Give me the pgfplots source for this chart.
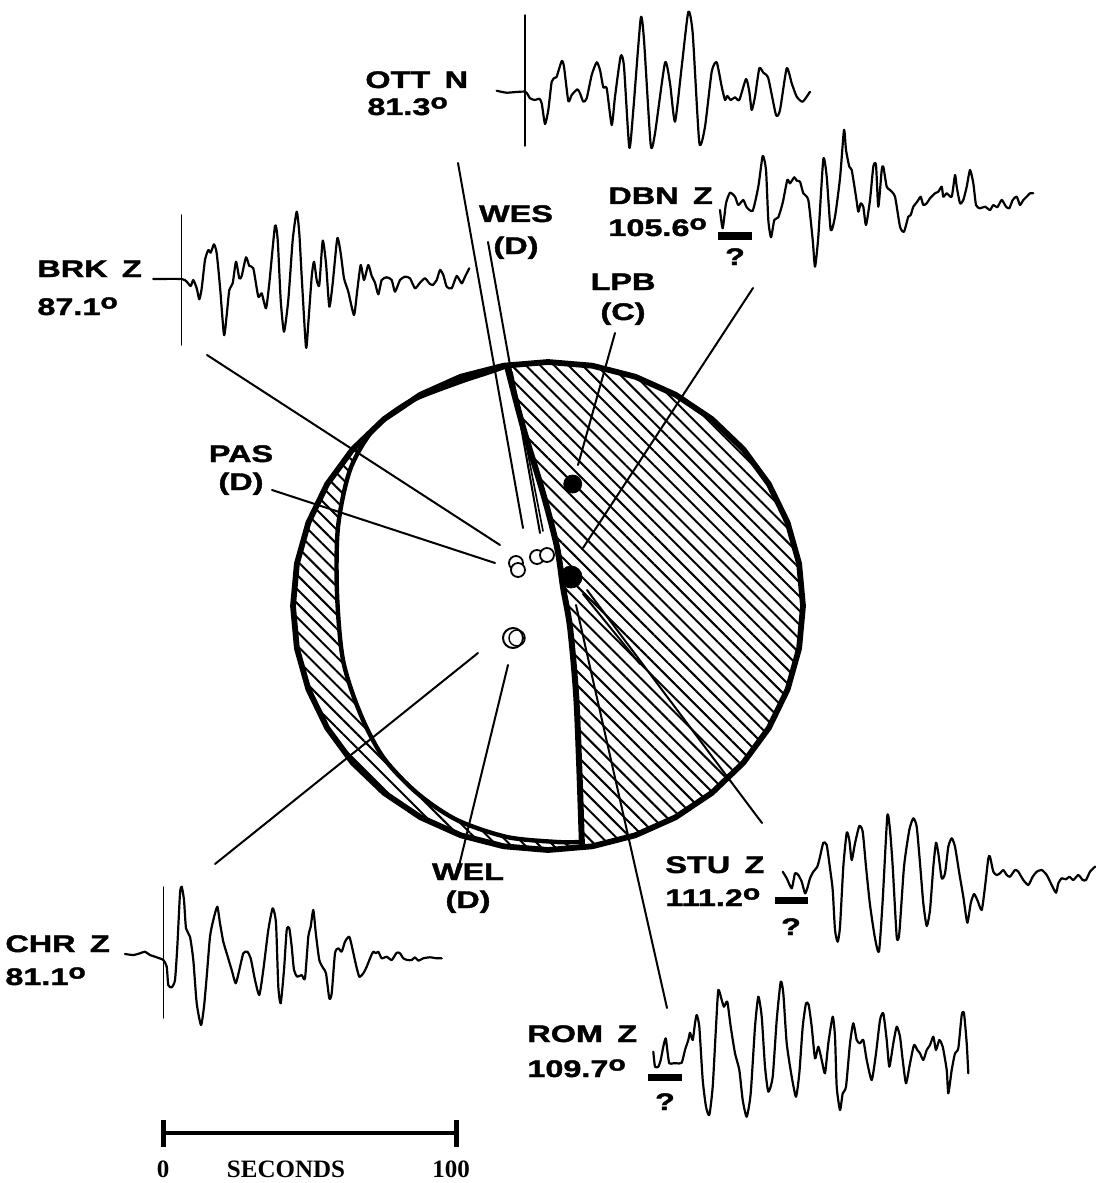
\documentclass[border=0pt]{standalone}
\usepackage{fontspec}
\setmainfont{Liberation Sans}
\newfontfamily\lab{Liberation Sans}[UprightFont={* Bold}, FakeStretch=1.35, FakeBold=1.6]
\newfontfamily\ser{Liberation Serif}[UprightFont={* Bold}]
\usepackage{pgfplots}
\pgfplotsset{compat=1.18}
\usetikzlibrary{patterns.meta}
\newcommand{\dg}{\raisebox{3.2bp}{\fontsize{10.5bp}{10bp}\selectfont o}}
\tikzset{
  lab/.style={inner sep=0pt, font=\lab\fontsize{12bp}{12bp}\selectfont},
  tr/.style={black, line width=1.1bp, smooth, tension=0.35},
  st/.style={black, line width=1bp},
  hat/.style={draw=none, pattern={Lines[angle=-45, distance=5bp, line width=1bp]}}}
\begin{document}
\begin{tikzpicture}
\begin{axis}[x=0.5bp, y=0.5bp, xmin=0, xmax=1096, ymin=0, ymax=1183, y dir=reverse,
  hide axis, clip=false, scale only axis,
  every axis plot/.append style={no markers, line join=round, line cap=round}]
\addplot[draw=none, forget plot] coordinates {(0,0) (1096,1183)};
% hatched regions
\addplot[hat] coordinates {(507,366) (523,427) (543,493) (557,547) (563,587) (570,627) (576,693) (579,760) (582,847) (592.3,846.3) (635.2,835.3) (675.5,817.3) (711.9,792.9) (743.3,762.8) (768.8,728) (787.6,689.4) (799.1,648.4) (803,606) (799.1,563.6) (787.6,522.6) (768.8,484) (743.3,449.2) (711.9,419.1) (675.5,394.7) (635.2,376.7) (592.3,365.7) (548,362) (507,366)} -- cycle;
\addplot[hat] coordinates {(507,366) (503.7,365.7) (460.8,376.7) (420.5,394.7) (384.1,419.1) (352.7,449.2) (327.2,484) (308.4,522.6) (296.9,563.6) (293,606) (296.9,648.4) (308.4,689.4) (327.2,728) (352.7,762.8) (384.1,792.9) (420.5,817.3) (460.8,835.3) (503.7,846.3) (548,850) (582,847) (580,842) (557,842) (507,837) (457,820) (417,793) (383,757) (360,713) (343,660) (337,593) (338,527) (350,470) (373,430) (407,403) (457,383) (490,372) (507,366)} -- cycle;
% outer circle
\addplot[black, line width=2.9bp] coordinates {(803,606) (799.1,563.6) (787.6,522.6) (768.8,484) (743.3,449.2) (711.9,419.1) (675.5,394.7) (635.2,376.7) (592.3,365.7) (548,362) (503.7,365.7) (460.8,376.7) (420.5,394.7) (384.1,419.1) (352.7,449.2) (327.2,484) (308.4,522.6) (296.9,563.6) (293,606) (296.9,648.4) (308.4,689.4) (327.2,728) (352.7,762.8) (384.1,792.9) (420.5,817.3) (460.8,835.3) (503.7,846.3) (548,850) (592.3,846.3) (635.2,835.3) (675.5,817.3) (711.9,792.9) (743.3,762.8) (768.8,728) (787.6,689.4) (799.1,648.4)} -- cycle;
% inner arc (nodal plane)
\addplot[black, line width=2.2bp, smooth] coordinates {(507,366) (490,372) (457,383) (407,403) (373,430) (350,470) (338,527) (337,593) (343,660) (360,713) (383,757) (417,793) (457,820) (507,837) (557,842) (580,842)};
% steep nodal plane
\addplot[black, line width=3bp, smooth] coordinates {(507,366) (523,427) (543,493) (557,547) (563,587) (570,627) (576,693) (579,760) (582,847)};
% station lines
\addplot[st] coordinates {(458,163) (523,528)};
\addplot[st] coordinates {(488,242) (540,533)};
\addplot[st, line width=0.8bp] coordinates {(512,372) (543,531)};
\addplot[st] coordinates {(615,333) (578,465)};
\addplot[st] coordinates {(753,288) (583,548)};
\addplot[st] coordinates {(207,355) (500,545)};
\addplot[st] coordinates {(272,490) (495,563)};
\addplot[st] coordinates {(215,864) (478,653)};
\addplot[st] coordinates {(508,665) (458,870)};
\addplot[st] coordinates {(587,590) (762,823)};
\addplot[st] coordinates {(583,594) (640,664)};
\addplot[st] coordinates {(576,605) (667,1008)};
% polarities
\addplot[only marks, mark=*, mark size=4.5bp, black] coordinates {(572.7,484)};
\addplot[only marks, mark=*, mark size=5.5bp, black] coordinates {(571,577)};
\addplot[only marks, mark=*, mark size=3.5bp, mark options={draw=black, fill=white, line width=0.9bp}] coordinates {(516,563) (518,570) (537,557) (547,555)};
\addplot[only marks, mark=*, mark size=5bp, mark options={draw=black, fill=white, line width=1bp}] coordinates {(513,638)};
\addplot[only marks, mark=*, mark size=4bp, mark options={draw=black, fill=white, fill opacity=0, line width=0.7bp}] coordinates {(517,638)};
% OTT
\addplot[black, line width=0.7bp] coordinates {(525,15) (525,146)};
\addplot[tr] coordinates {(496.7,90.7) (506.7,92.7) (525,91.7) (530,98.3) (535,100) (539.3,98.7) (541.7,103.3) (545,124) (548.3,110) (551.7,81.7) (555,77.7) (556.7,76.7) (561.7,61) (564,66.7) (568.3,101) (571.7,95) (577.3,89.3) (580,93.3) (583.3,101.7) (586.7,98.3) (591.7,75) (596.7,62.3) (600,70) (603.3,87.3) (606.7,88.3) (611.7,125) (615,96.7) (620.7,56) (624,66.7) (629.3,147.7) (633.3,110) (640.7,18.3) (644,40) (650.7,145) (655,133.3) (665,62.7) (670,83.3) (675,121.7) (681.7,66.7) (688.3,11.7) (692.7,33.3) (699.3,142.7) (705,126.7) (711.7,71.7) (716.7,62.3) (721.7,86.7) (725,100) (727.3,96) (730.7,100) (735,97.3) (739.3,100) (746,79) (749.3,91.7) (751.7,110) (755,96.7) (759.3,68.3) (763.3,72.7) (768.3,78.3) (776,115) (780,110) (786.7,68.3) (791.7,83.3) (796.7,96.7) (802.7,101.7) (810,91.7)};
% DBN
\addplot[black, line width=3.5bp, line cap=butt] coordinates {(718,236) (752,236)};
\addplot[tr] coordinates {(720,210) (722.7,228.3) (726,203.3) (730,192.7) (735,196.7) (738.3,205) (743.3,200) (746.7,207.3) (752.7,210.7) (758.3,186.7) (762.7,156) (766,170) (768.3,220) (771,237.3) (774.3,220) (778.3,217.3) (782.7,202.7) (787.3,180) (790,183.3) (794.3,177.3) (796.7,180.7) (800,181.7) (803.3,193.3) (808.3,200) (812.7,240) (815,266.7) (818.3,236.7) (823.3,159.3) (826.7,176.7) (830.7,230) (835,216.7) (840,178.3) (844,130) (846,150) (849.3,166.7) (851.7,170) (856,196.7) (858.3,211.7) (860.7,203.3) (863.3,206.7) (866,225) (870,200) (873.3,166.7) (876,165) (878.3,206.7) (881.7,170) (883.3,166.7) (886.7,186.7) (890,190) (895,196.7) (900,226.7) (904,231.7) (908.3,216.7) (910.7,215) (913.3,206.7) (916,203.3) (918.3,200) (920.7,196.7) (923.3,205) (926.7,203.3) (930,198.3) (935,193.3) (938.3,191.7) (941.7,186.7) (943.3,196.7) (946.7,193.3) (951.7,196.7) (955,175) (956.7,186.7) (960,203.3) (963.3,200) (966.7,186.7) (970,170) (973.3,183.3) (976,205) (980,208.3) (985,206.7) (990,210) (993.3,205) (997.3,207.3) (1001.7,200) (1006,206.7) (1009.3,208.3) (1012.7,200) (1016.7,196.7) (1020,205) (1023.3,200) (1026.7,196.7) (1030,193.3) (1033.3,193.3)};
% BRK
\addplot[black, line width=0.7bp] coordinates {(181.7,215) (181.7,345)};
\addplot[tr] coordinates {(153.3,279) (181.7,279) (186.7,281.7) (190.7,286) (193.3,280) (196.7,288.3) (199.3,299.3) (201.7,288.3) (205,260) (208.3,250) (210.7,252.7) (214,244.3) (216.7,253.3) (220,286.7) (224,335) (226.7,315) (229.3,290) (232.7,283.3) (236,261.7) (239.3,278.3) (241.7,276) (246,257.3) (249.3,266) (253.3,268.3) (258.3,296.7) (261.7,293.3) (266,308.3) (269.3,283.3) (275,226) (277.7,240) (280.7,300) (284,331.7) (288.3,300) (292.7,240) (296.7,211.7) (299.3,233.3) (301.7,276.7) (306,347.3) (308.3,323.3) (311.7,276.7) (314,261.7) (316.7,280) (319.3,285) (322.7,240.7) (326,263.3) (329.3,306.7) (332.7,283.3) (337.3,238.3) (340.7,253.3) (344,278.3) (348.3,291.7) (354,315) (357.3,290) (360.7,265) (364,280) (368.3,265) (371.7,276) (375,282.7) (378.3,294.3) (381.7,280) (386.7,277.3) (391.7,280) (395,291.7) (400,280) (405,276.7) (410,278.3) (415,288.3) (420,282.7) (425,278.3) (429.3,283.3) (432.7,285) (436.7,280) (440,270) (443.3,275) (446.7,286.7) (451.7,288.3) (456.7,276) (461.7,283.3) (465,276.7) (469.3,268.3)};
% STU
\addplot[black, line width=3.5bp, line cap=butt] coordinates {(775,900.5) (808,900.5)};
\addplot[tr] coordinates {(782.7,871.7) (786.7,878.3) (791.7,888.3) (795,873.3) (798.3,875) (801.7,881.7) (805,893.3) (807.3,888.3) (810,878.3) (813.3,871.7) (817.3,866.7) (820,856.7) (823.3,842.7) (826.7,845) (830,868.3) (832.7,890) (835,930) (837.7,941.7) (840,926.7) (843.3,866.7) (846.7,832.7) (849.3,840) (851.7,860) (855,843.3) (859.3,826) (862.7,831.7) (866,866.7) (870,905) (875,938.3) (879,951.7) (882.7,900) (887.3,816) (890,830) (892.7,866.7) (896.7,936.7) (899.3,933.3) (904,866.7) (909.3,830) (913.3,818.3) (916.7,826.7) (920,863.3) (923.3,903.3) (926.7,926) (930,910) (933.3,866.7) (936,842.7) (938.3,853.3) (941.7,878.3) (945,873.3) (948.3,846.7) (951.7,838.3) (955,846.7) (959.3,873.3) (963.3,896.7) (967.3,922.7) (970.7,903.3) (974,894) (977.3,900) (981.7,910) (985,886.7) (988.3,858.3) (990,856.7) (993.3,871.7) (996.7,875) (1000,873.3) (1003.3,870) (1006.7,875) (1010,876.7) (1015,870) (1018.3,871.7) (1023.3,880) (1028.3,885) (1032.7,876.7) (1036.7,871.7) (1041.7,870) (1046.7,875) (1051.7,885) (1056,892.7) (1058.3,883.3) (1061.7,878.3) (1066,879.3) (1069.3,876.7) (1073.3,880) (1078.3,875) (1082.7,880) (1086,880) (1090,871.7) (1095,866.7)};
% CHR
\addplot[black, line width=0.7bp] coordinates {(163.3,887) (163.3,1018)};
\addplot[tr] coordinates {(125,954) (133.3,955) (140,953.3) (145,951.7) (150,955) (156.7,957.3) (163.3,960) (166.7,966.7) (168.3,985) (171.7,987.3) (175,980) (177.3,946.7) (180,893.3) (181.7,886.7) (184,900) (186,928.3) (190,936.7) (193.3,960) (196.7,1003.3) (201,1025) (204,1006.7) (206.7,976.7) (210,936.7) (213.3,920) (217.3,906.7) (220,923.3) (223.3,941.7) (226.7,953.3) (231.7,970) (235.7,983.3) (239.3,970) (243.3,953.3) (247.3,951.7) (250.7,958.3) (255,980) (259.3,995) (263.3,970) (268.3,930) (272.7,908.3) (276,923.3) (278.3,986.7) (280.7,1003.3) (284,970) (286.7,930) (289.3,928.3) (291.7,946.7) (294,970) (297.3,976.7) (301.7,975) (305,978.3) (308.3,936.7) (310.7,926.7) (313.3,910) (316,935) (319.3,960) (323.3,968.3) (326,973.3) (329.3,998.3) (331.7,993.3) (335,953.3) (338.3,948.3) (341.7,951.7) (345,941.7) (349.3,936.7) (352.7,950) (356,965) (359.3,976.7) (363.3,973.3) (366.7,966.7) (370.7,956.7) (373.3,951.7) (376,953.3) (378.3,951.7) (381.7,958.3) (386.7,956.7) (391.7,960) (396.7,952.7) (400,953.3) (403.3,958.3) (407.3,960) (411.7,960) (415,957.3) (418.3,960.7) (423.3,958.3) (430,957.3) (436.7,958.3) (441.7,958.3)};
% ROM
\addplot[black, line width=3.5bp, line cap=butt] coordinates {(648,1077.5) (682,1077.5)};
\addplot[tr] coordinates {(653.3,1051.7) (655,1066.7) (658.3,1066.7) (660.7,1060) (663.3,1046.7) (665.7,1038.3) (667.7,1053.3) (669.3,1063.3) (673.3,1063.3) (676.7,1063.3) (681.7,1062.7) (685,1050) (688.3,1040) (690,1032.7) (692.7,1040) (695,1023.3) (696.7,1015) (699.3,1026.7) (702.7,1080) (706,1106.7) (709.3,1115) (712.7,1086.7) (716,1026.7) (718.3,990) (721.7,1000) (724,1006.7) (727.3,1001.7) (730.7,1026.7) (735,1053.3) (739.3,1070) (742.7,1100) (746.7,1116.7) (750.7,1093.3) (755,1026.7) (758.3,996.7) (761.7,1016.7) (765,1066.7) (768.3,1091.7) (772.7,1076.7) (776.7,1020) (780.7,981.7) (783.3,993.3) (786.7,1043.3) (791.7,1076.7) (796,1096.7) (799.3,1073.3) (802.7,1026.7) (806,1003.3) (808.7,1005) (811.7,1026.7) (815,1058.3) (818.3,1046.7) (821.7,1060) (825,1073.3) (828.3,1043.3) (832.7,1016.7) (835,1036.7) (836.7,1086.7) (840,1110) (842.7,1093.3) (846,1086.7) (850,1043.3) (853.3,1023.3) (856.7,1040) (860,1043.3) (863.3,1040) (866.7,1060) (871.7,1080) (876,1053.3) (880,1020) (883.3,1013.3) (886.7,1040) (889.3,1066.7) (893.3,1043.3) (896.7,1026.7) (900,1036.7) (902.7,1060) (906,1083.3) (910,1063.3) (914,1045) (917.3,1050) (920,1053.3) (923.3,1060) (926.7,1050) (930,1045) (933.3,1036.7) (936,1050) (939.3,1040) (942.7,1046.7) (946.7,1070) (948.3,1093.3) (951.7,1070) (955,1053.3) (958.3,1048.3) (961.7,1015) (964,1013.3) (966.7,1043.3) (968.3,1073.3)};
% scale bar
\addplot[black, line width=1.7bp, line cap=butt] coordinates {(163,1133) (456,1133)};
\addplot[black, line width=2.5bp, line cap=butt] coordinates {(163,1120) (163,1147)};
\addplot[black, line width=2.5bp, line cap=butt] coordinates {(456,1120) (456,1147)};
% labels
\node[lab, anchor=base west] at (axis cs:365,88) {OTT\hspace{0.6em}N};
\node[lab, anchor=base west] at (axis cs:367,115) {81.3\dg};
\node[lab, anchor=base west] at (axis cs:608,204) {DBN\hspace{0.6em}Z};
\node[lab, anchor=base west] at (axis cs:608,236) {105.6\dg};
\node[lab, anchor=base west] at (axis cs:37,277) {BRK\hspace{0.6em}Z};
\node[lab, anchor=base west] at (axis cs:37,315) {87.1\dg};
\node[lab, anchor=base west] at (axis cs:665,873) {STU\hspace{0.6em}Z};
\node[lab, anchor=base west] at (axis cs:665,906) {111.2\dg};
\node[lab, anchor=base west] at (axis cs:5,952) {CHR\hspace{0.6em}Z};
\node[lab, anchor=base west] at (axis cs:5,985) {81.1\dg};
\node[lab, anchor=base west] at (axis cs:527,1042) {ROM\hspace{0.6em}Z};
\node[lab, anchor=base west] at (axis cs:527,1077) {109.7\dg};
\node[lab, anchor=base] at (axis cs:516,222) {WES};
\node[lab, anchor=base] at (axis cs:516,254) {(D)};
\node[lab, anchor=base] at (axis cs:623,290) {LPB};
\node[lab, anchor=base] at (axis cs:623,320) {(C)};
\node[lab, anchor=base] at (axis cs:241,462) {PAS};
\node[lab, anchor=base] at (axis cs:241,490) {(D)};
\node[lab, anchor=base] at (axis cs:468,880) {WEL};
\node[lab, anchor=base] at (axis cs:468,908) {(D)};
\node[lab, anchor=base] at (axis cs:735,265) {?};
\node[lab, anchor=base] at (axis cs:791,935) {?};
\node[lab, anchor=base] at (axis cs:665,1110) {?};
\node[inner sep=0pt, anchor=base, font=\ser\fontsize{12.5bp}{13bp}\selectfont] at (axis cs:163,1177) {0};
\node[inner sep=0pt, anchor=base, font=\ser\fontsize{12.5bp}{13bp}\selectfont] at (axis cs:286,1177) {SECONDS};
\node[inner sep=0pt, anchor=base, font=\ser\fontsize{12.5bp}{13bp}\selectfont] at (axis cs:451,1177) {100};
\end{axis}
\end{tikzpicture}
\end{document}
